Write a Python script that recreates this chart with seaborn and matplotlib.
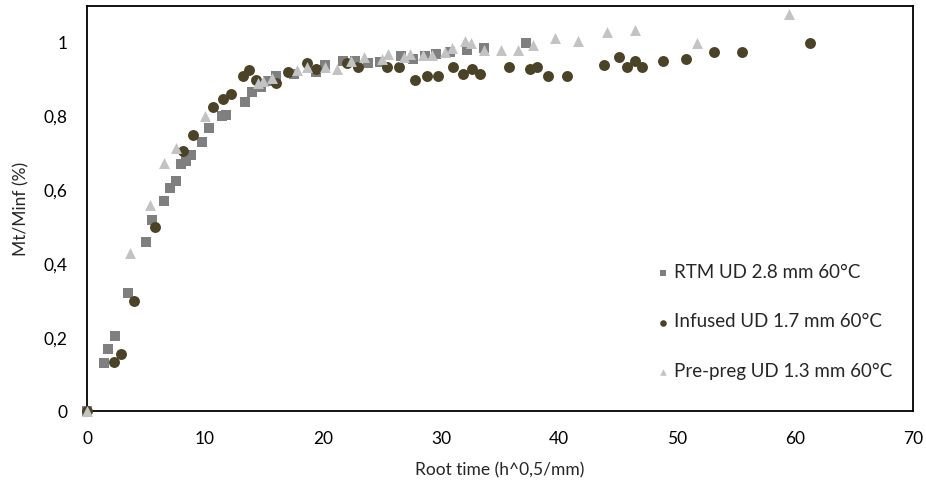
import pandas as pd
import matplotlib
matplotlib.use("Agg")
import matplotlib.pyplot as plt
import seaborn as sns

# Data
rtm_x = [0, 1.4, 1.8, 2.4, 3.5, 5.0, 5.5, 6.5, 7.0, 7.5, 8.0, 8.4, 8.8, 9.7, 10.3,
         11.4, 11.8, 13.4, 14.0, 14.7, 15.3, 16.0, 17.5, 19.4, 20.2, 21.7, 22.7,
         23.8, 24.8, 26.6, 27.6, 28.6, 29.6, 30.8, 32.2, 33.6, 37.2]
rtm_y = [0, 0.13, 0.17, 0.205, 0.32, 0.46, 0.52, 0.57, 0.605, 0.625, 0.67, 0.68,
         0.695, 0.73, 0.77, 0.80, 0.805, 0.84, 0.865, 0.88, 0.895, 0.91, 0.915,
         0.92, 0.94, 0.95, 0.95, 0.945, 0.948, 0.965, 0.955, 0.965, 0.97, 0.975,
         0.98, 0.985, 1.0]

inf_x = [0, 2.3, 2.9, 4.0, 5.8, 8.1, 9.0, 10.7, 11.5, 12.2, 13.2, 13.7, 14.3, 16.0,
         17.0, 18.6, 19.4, 22.0, 23.0, 25.4, 26.4, 27.8, 28.8, 29.7, 31.0, 31.9,
         32.6, 33.3, 35.8, 37.5, 38.1, 39.1, 40.7, 43.8, 45.1, 45.8, 46.4, 47.0,
         48.8, 50.8, 53.1, 55.5, 61.3]
inf_y = [0, 0.135, 0.155, 0.30, 0.50, 0.705, 0.75, 0.825, 0.848, 0.86, 0.91, 0.925,
         0.90, 0.89, 0.92, 0.945, 0.93, 0.945, 0.935, 0.935, 0.935, 0.90, 0.91,
         0.91, 0.935, 0.915, 0.93, 0.915, 0.935, 0.93, 0.935, 0.91, 0.91, 0.94,
         0.96, 0.935, 0.95, 0.935, 0.95, 0.955, 0.975, 0.975, 1.0]

pp_x = [0, 3.65, 5.3, 6.5, 7.5, 10.0, 14.5, 14.9, 15.7, 17.8, 18.6, 20.2, 21.2,
        22.4, 23.5, 25.0, 25.5, 26.9, 27.4, 28.5, 29.2, 30.3, 30.9, 32.0, 32.5,
        33.6, 35.1, 36.5, 37.8, 39.7, 41.6, 44.1, 46.4, 51.7, 59.5]
pp_y = [0, 0.43, 0.56, 0.675, 0.715, 0.80, 0.89, 0.895, 0.905, 0.925, 0.935, 0.935,
        0.93, 0.95, 0.96, 0.955, 0.97, 0.96, 0.97, 0.968, 0.968, 0.975, 0.985,
        1.005, 0.998, 0.98, 0.98, 0.98, 0.995, 1.012, 1.005, 1.028, 1.035, 1.0,
        1.078]

labels = ["RTM UD 2.8 mm 60°C", "Infused UD 1.7 mm 60°C", "Pre-preg UD 1.3 mm 60°C"]
y_ticks = [0, 0.2, 0.4, 0.6, 0.8, 1.0]
y_tick_labels = ["0", "0,2", "0,4", "0,6", "0,8", "1"]
x_ticks = [0, 10, 20, 30, 40, 50, 60, 70]

df = pd.concat([
    pd.DataFrame({"x": rtm_x, "y": rtm_y, "series": labels[0]}),
    pd.DataFrame({"x": inf_x, "y": inf_y, "series": labels[1]}),
    pd.DataFrame({"x": pp_x, "y": pp_y, "series": labels[2]}),
], ignore_index=True)

colors = {labels[0]: "#7f7f7f", labels[1]: "#4b4327", labels[2]: "#c3c3c3"}
markers = {labels[0]: "s", labels[1]: "o", labels[2]: "^"}

sns.set_style("white")
plt.rcParams["font.family"] = ["Lato", "DejaVu Sans"]

fig, ax = plt.subplots(figsize=(9.26, 4.88), dpi=100)
fig.subplots_adjust(left=0.094, right=0.986, bottom=0.157, top=0.988)

for lab in labels:
    sub = df[df["series"] == lab]
    sns.scatterplot(data=sub, x="x", y="y", color=colors[lab], marker=markers[lab],
                    s=62, linewidth=0, label=lab, ax=ax, clip_on=False, zorder=3)

ax.set_xlim(0, 70)
ax.set_ylim(0, 1.1)
ax.set_xticks(x_ticks)
ax.set_yticks(y_ticks)
ax.set_yticklabels(y_tick_labels)
ax.tick_params(direction="in", length=5, width=1.3, labelsize=12.5, colors="black")
ax.tick_params(axis="x", pad=14)
ax.tick_params(axis="y", pad=14)
for sp in ax.spines.values():
    sp.set_color("black")
    sp.set_linewidth(1.3)

ax.set_xlabel("Root time (h^0,5/mm)", fontsize=12.5, labelpad=11)
ax.set_ylabel("Mt/Minf (%)", fontsize=12.5, labelpad=10)

leg = ax.legend(loc="lower right", bbox_to_anchor=(0.995, 0.035), frameon=False,
                fontsize=13.5, labelspacing=1.75, handletextpad=0.0,
                markerscale=0.6, handlelength=1.2)

plt.savefig("out.png", dpi=100)
plt.close()
